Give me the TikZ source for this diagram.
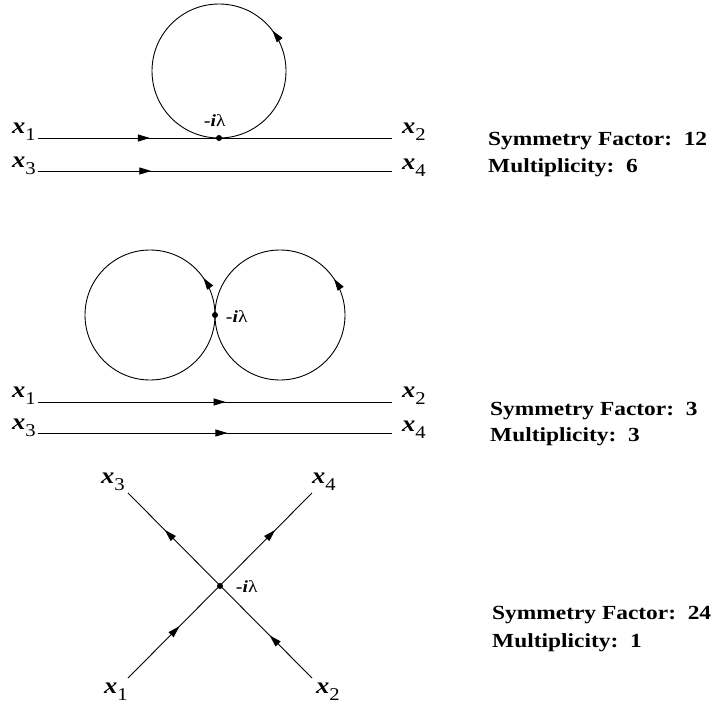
\documentclass[tikz,border=0pt]{standalone}
\usepackage{fontspec}
\setmainfont{Liberation Serif}
\usetikzlibrary{arrows.meta,decorations.markings}
\newcommand{\xlab}[1]{\scalebox{1.15}[1]{\fontsize{23}{23}\selectfont\bfseries\itshape x\raisebox{-7pt}{\fontsize{18}{18}\selectfont\mdseries\upshape #1}}}
\newcommand{\vlab}{\scalebox{1.15}[1]{\fontsize{17}{17}\selectfont\bfseries\itshape -i\mdseries\upshape λ}}
\newcommand{\infotext}[1]{\scalebox{1.17}[1]{\fontsize{20}{20}\selectfont\bfseries #1}}
\begin{document}
\begin{tikzpicture}[x=1pt,y=-1pt,
  >={Triangle[length=12pt,width=7pt]},
  prop/.style={line width=0.9pt},
  midarrow/.style={postaction={decorate},decoration={markings,mark=at position #1 with {\arrow{>}}}},
  twoarrows/.style 2 args={postaction={decorate},decoration={markings,mark=at position #1 with {\arrow{>}},mark=at position #2 with {\arrow{>}}}},
  vtx/.style={circle,fill=black,inner sep=0pt,minimum size=6pt},
  lab/.style={anchor=base west,inner sep=0pt}]
\useasboundingbox (0,0) rectangle (714,709);

% ---------- Diagram 1 ----------
\node[vtx] (v1) at (219,138) {};
\coordinate (a1) at (38,138);
\coordinate (b1) at (392,138);
\coordinate (a3) at (38,171);
\coordinate (b3) at (392,171);
\draw[prop,midarrow=0.353] (v1.center) arc[start angle=90,end angle=-270,radius=67];
\draw[prop,midarrow=0.316] (a1) -- (b1);
\draw[prop,midarrow=0.32] (a3) -- (b3);
\node[lab] (l1x1) at (12,133) {\xlab{1}};
\node[lab] (l1x2) at (402,133) {\xlab{2}};
\node[lab] (l1x3) at (12,167) {\xlab{3}};
\node[lab] (l1x4) at (402,169) {\xlab{4}};
\node[lab] (l1v) at (204,126) {\vlab};
\node[lab] (s1) at (488,145) {\infotext{Symmetry Factor:\ \ 12}};
\node[lab] (m1) at (488,172) {\infotext{Multiplicity:\ \ 6}};

% ---------- Diagram 2 ----------
\node[vtx] (v2) at (215,315) {};
\coordinate (c1) at (38,402);
\coordinate (d1) at (392,402);
\coordinate (c3) at (38,433);
\coordinate (d3) at (392,433);
\draw[prop,midarrow=0.097] (v2.center) arc[start angle=0,end angle=-360,radius=65];
\draw[prop,midarrow=0.594] (v2.center) arc[start angle=180,end angle=-180,radius=65];
\draw[prop,midarrow=0.53] (c1) -- (d1);
\draw[prop,midarrow=0.535] (c3) -- (d3);
\node[lab] (l2x1) at (12,397) {\xlab{1}};
\node[lab] (l2x2) at (402,397) {\xlab{2}};
\node[lab] (l2x3) at (12,429) {\xlab{3}};
\node[lab] (l2x4) at (402,431) {\xlab{4}};
\node[lab] (l2v) at (226,322) {\vlab};
\node[lab] (s2) at (490,415) {\infotext{Symmetry Factor:\ \ 3}};
\node[lab] (m2) at (490,441) {\infotext{Multiplicity:\ \ 3}};

% ---------- Diagram 3 ----------
\node[vtx] (v3) at (220,586) {};
\coordinate (p1) at (128,678);
\coordinate (p2) at (312,678);
\coordinate (p3) at (128,493);
\coordinate (p4) at (312,493);
\draw[prop,twoarrows={0.28}{0.80}] (p1) -- (p4);
\draw[prop,twoarrows={0.23}{0.80}] (p2) -- (p3);
\node[lab] (l3x3) at (101,483) {\xlab{3}};
\node[lab] (l3x4) at (312,483) {\xlab{4}};
\node[lab] (l3x1) at (104,693) {\xlab{1}};
\node[lab] (l3x2) at (316,693) {\xlab{2}};
\node[lab] (l3v) at (236,592) {\vlab};
\node[lab] (s3) at (492,619) {\infotext{Symmetry Factor:\ \ 24}};
\node[lab] (m3) at (492,647) {\infotext{Multiplicity:\ \ 1}};
\end{tikzpicture}
\end{document}
